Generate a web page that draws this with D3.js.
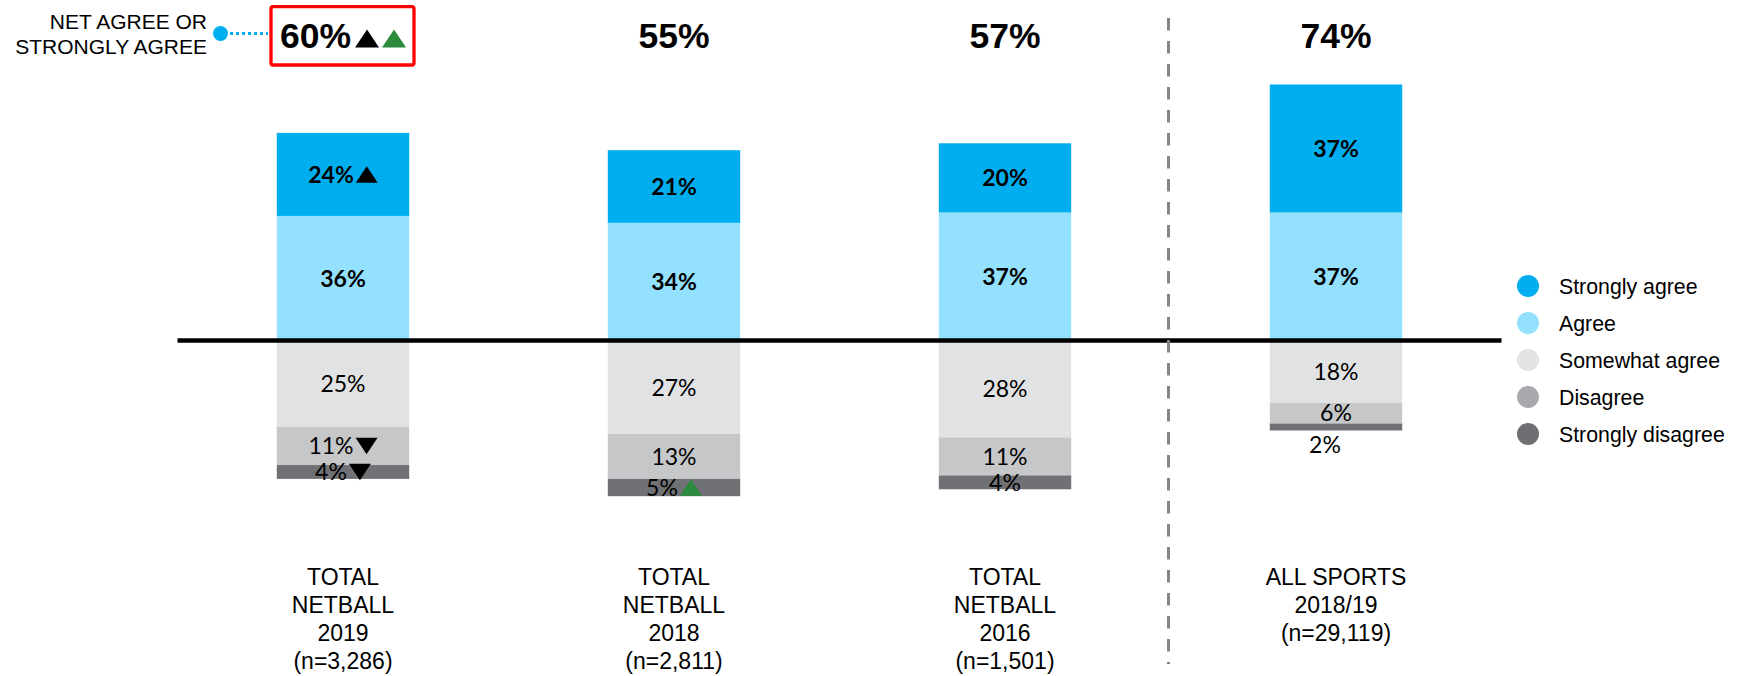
<!DOCTYPE html>
<html><head><meta charset="utf-8">
<script src="https://cdn.jsdelivr.net/npm/d3@7/dist/d3.min.js"></script>
<style>body{margin:0;background:#fff}svg{display:block}</style>
</head><body><svg id="c" width="1742" height="676"></svg>
<script>
const categories = ["TOTAL NETBALL 2019","TOTAL NETBALL 2018","TOTAL NETBALL 2016","ALL SPORTS 2018/19"];
const categoryLines = [
  ["TOTAL","NETBALL","2019","(n=3,286)"],
  ["TOTAL","NETBALL","2018","(n=2,811)"],
  ["TOTAL","NETBALL","2016","(n=1,501)"],
  ["ALL SPORTS","2018/19","(n=29,119)"]
];
const seriesNames = ["Strongly agree","Agree","Somewhat agree","Disagree","Strongly disagree"];
const stronglyAgree = [24,21,20,37];
const agree = [36,34,37,37];
const somewhatAgree = [25,27,28,18];
const disagree = [11,13,11,6];
const stronglyDisagree = [4,5,4,2];
// significance markers per bar
const sigStronglyAgree = [["up-black"],[],[],[]];
const sigAgree = [[],[],[],[]];
const sigSomewhat = [[],[],[],[]];
const sigDisagree = [["down-black"],[],[],[]];
const sigStronglyDisagree = [["down-black"],["up-green"],[],[]];
const sigNet = [["up-black","up-green"],[],[],[]];
const netLabelLines = ["NET AGREE OR","STRONGLY AGREE"];

const barColors = {"Strongly agree":"#00AEEF","Agree":"#94E1FF","Somewhat agree":"#E1E2E4","Disagree":"#C6C7C9","Strongly disagree":"#707175"};
const legendColors = {"Strongly agree":"#00AEEF","Agree":"#94E1FF","Somewhat agree":"#E2E3E5","Disagree":"#A8A9AC","Strongly disagree":"#6E6F73"};
const triColors = {"black":"#000","green":"#2B8A3C"};
const SANS = "'Liberation Sans', Arial, sans-serif";
const LATO = "Lato, 'Open Sans', sans-serif";

const svg = d3.select("#c");

// data table
const table = categories.map((c,i)=>({
  cat:c,
  "Agree":agree[i],
  "Strongly agree":stronglyAgree[i],
  "Somewhat agree":-somewhatAgree[i],
  "Disagree":-disagree[i],
  "Strongly disagree":-stronglyDisagree[i]
}));
const sigMap = {"Strongly agree":sigStronglyAgree,"Agree":sigAgree,"Somewhat agree":sigSomewhat,"Disagree":sigDisagree,"Strongly disagree":sigStronglyDisagree};
const stackKeys = ["Agree","Strongly agree","Somewhat agree","Disagree","Strongly disagree"];
const stacked = d3.stack().keys(stackKeys).offset(d3.stackOffsetDiverging)(table);

const x = d3.scaleBand().domain(categories).range([177.5,1501.5]).paddingInner(0.6).paddingOuter(0.3);
const y = d3.scaleLinear().domain([-50,80]).range([340.5+50*3.46, 340.5-80*3.46]);

// bars
const layers = svg.append("g").selectAll("g").data(stacked).join("g")
  .attr("fill", d=>barColors[d.key]);
layers.selectAll("rect").data(d=>d.map(v=>({key:d.key,v,cat:v.data.cat}))).join("rect")
  .attr("x", d=>x(d.cat))
  .attr("width", x.bandwidth())
  .attr("y", d=>y(Math.max(d.v[0],d.v[1])))
  .attr("height", d=>Math.abs(y(d.v[0])-y(d.v[1])));

function drawTri(g, x0, base, w, h, dir, color){
  const pts = dir==="up"
    ? [[x0,base],[x0+w,base],[x0+w/2,base-h]]
    : [[x0,base-h],[x0+w,base-h],[x0+w/2,base]];
  g.append("path").attr("d", d3.line()(pts)+"Z").attr("fill", color);
}

// label group: text + triangles, centered on cx
function labelWithMarks(parent, cx, base, txt, marks, font, size, weight, tw, th, gap1, gap2){
  const g = parent.append("g");
  const t = g.append("text").attr("x",0).attr("y",base)
    .attr("font-family",font).attr("font-size",size).attr("font-weight",weight)
    .attr("fill","#000").text(txt);
  const tl = t.node().getComputedTextLength();
  let cur = tl + (marks.length? gap1:0);
  marks.forEach((m,i)=>{
    const [dir,col] = m.split("-");
    drawTri(g, cur, base, tw, th, dir, triColors[col]);
    cur += tw + gap2;
  });
  const total = marks.length ? cur - gap2 : tl;
  g.attr("transform", `translate(${cx - total/2},0)`);
  return {x0: cx-total/2, x1: cx+total/2};
}

// segment labels
stacked.forEach(layer=>{
  layer.forEach((v,i)=>{
    const key = layer.key;
    const val = Math.abs(v[1]-v[0]);
    const bold = (key==="Agree"||key==="Strongly agree");
    const cx = x(categories[i]) + x.bandwidth()/2;
    const top = y(Math.max(v[0],v[1])), bot = y(Math.min(v[0],v[1]));
    let base = (top+bot)/2 + 8.3;
    let cxx = cx;
    if (bot - top < 10) { base = bot + 23; cxx = cx - 11; }
    labelWithMarks(svg, cxx, base, val+"%", sigMap[key][i], LATO, 23, bold?700:400, 22, 16.5, 2, 3);
  });
});

// zero line
svg.append("line").attr("x1",x.range()[0]).attr("x2",x.range()[1])
  .attr("y1",y(0)).attr("y2",y(0)).attr("stroke","#000").attr("stroke-width",4.5);

// divider
const divX = (x(categories[2])+x.bandwidth() + x(categories[3]))/2 - 2;
svg.append("line").attr("x1",divX).attr("x2",divX).attr("y1",18).attr("y2",664)
  .attr("stroke","#858585").attr("stroke-width",3).attr("stroke-dasharray","12.5,10.5");

// net labels
categories.forEach((c,i)=>{
  const net = stronglyAgree[i]+agree[i];
  const cx = x(c)+x.bandwidth()/2;
  const r = labelWithMarks(svg, cx, 47.5, net+"%", sigNet[i], SANS, 35.5, 700, 24, 18, 4, 3);
  if (sigNet[i].length){
    svg.append("rect").attr("x", 271).attr("y",6.7).attr("width", 414-271).attr("height",58.3)
      .attr("rx",2).attr("fill","none").attr("stroke","#FF0000").attr("stroke-width",3.3);
  }
});

// net annotation
const na = svg.append("g");
netLabelLines.forEach((l,i)=>{
  na.append("text").attr("x",207).attr("y",28.5+i*25).attr("text-anchor","end")
    .attr("font-family",SANS).attr("font-size",21).attr("fill","#000").text(l);
});
na.append("line").attr("x1",230).attr("x2",268).attr("y1",33.5).attr("y2",33.5)
  .attr("stroke","#00AEEF").attr("stroke-width",3).attr("stroke-dasharray","3,3");
na.append("circle").attr("cx",220.5).attr("cy",33.5).attr("r",7.5).attr("fill","#00AEEF");

// category labels
categories.forEach((c,i)=>{
  const t = svg.append("text").attr("text-anchor","middle")
    .attr("font-family",SANS).attr("font-size",23).attr("fill","#000");
  categoryLines[i].forEach((l,j)=>{
    t.append("tspan").attr("x", x(c)+x.bandwidth()/2).attr("y", 585 + j*28).text(l);
  });
});

// legend
const lg = svg.append("g");
seriesNames.forEach((s,i)=>{
  const cy = 286 + i*37;
  lg.append("circle").attr("cx",1528).attr("cy",cy).attr("r",11).attr("fill",legendColors[s]);
  lg.append("text").attr("x",1559).attr("y",cy+7.5).attr("font-family",SANS).attr("font-size",21.3)
    .attr("fill","#000").text(s);
});
</script>
</body></html>
